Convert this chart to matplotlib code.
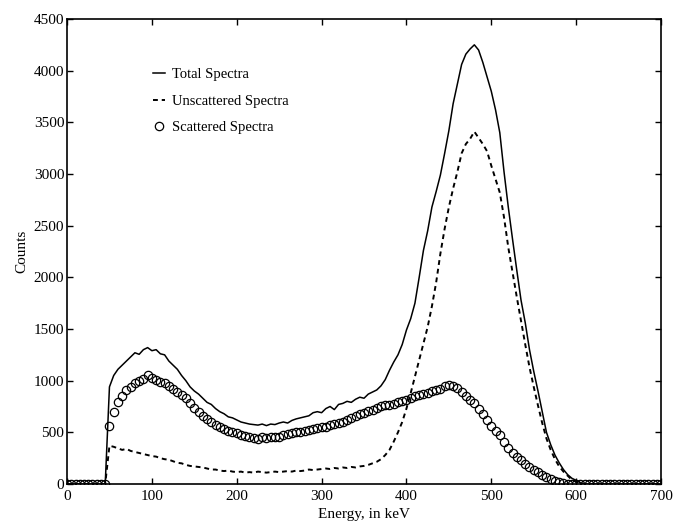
import matplotlib
matplotlib.use('Agg')
import matplotlib.pyplot as plt
import numpy as np

plt.rcParams['font.family'] = ['Liberation Serif', 'DejaVu Serif']

# ---------------- data (5 keV bins) ----------------
energy = np.arange(0, 705, 5)

total = [
    0, 0, 0, 0, 0, 0, 0, 0, 0, 0,
    940, 1050, 1110, 1150, 1190, 1230, 1270, 1255, 1300, 1320,
    1290, 1300, 1260, 1250, 1190, 1150, 1110, 1050, 1000, 940,
    900, 870, 830, 790, 770, 730, 700, 680, 650, 640,
    620, 600, 590, 580, 575, 570, 580, 565, 580, 575,
    590, 600, 590, 615, 630, 640, 650, 660, 690, 700,
    690, 730, 750, 720, 770, 780, 800, 790, 820, 840,
    830, 870, 890, 910, 950, 1010, 1100, 1180, 1250, 1350,
    1490, 1600, 1750, 2000, 2260, 2450, 2680, 2830, 2990, 3200,
    3420, 3680, 3870, 4060, 4160, 4210, 4250, 4200, 4080, 3940,
    3800, 3620, 3400, 3020, 2680, 2370, 2070, 1780, 1560, 1300,
    1090, 900, 700, 500, 380, 280, 205, 140, 90, 55,
    35, 10, 0, 0, 0, 0, 0, 0, 0, 0,
    0, 0, 0, 0, 0, 0, 0, 0, 0, 0,
    0,
]

unscattered = [
    0, 0, 0, 0, 0, 0, 0, 0, 0, 0,
    370, 360, 345, 330, 340, 320, 310, 300, 290, 280,
    270, 265, 250, 240, 235, 220, 205, 200, 185, 175,
    170, 165, 160, 150, 140, 140, 130, 125, 130, 120,
    115, 120, 110, 115, 110, 120, 115, 110, 115, 120,
    115, 120, 125, 120, 130, 125, 130, 140, 135, 140,
    145, 150, 145, 155, 150, 160, 155, 165, 160, 170,
    175, 185, 200, 215, 240, 280, 330, 410, 500, 600,
    730, 880, 1040, 1200, 1360, 1520, 1720, 1950, 2230, 2470,
    2680, 2860, 3020, 3200, 3290, 3340, 3410, 3350, 3290, 3220,
    3080, 2950, 2820, 2580, 2290, 2050, 1810, 1580, 1350, 1130,
    940, 760, 590, 440, 330, 240, 170, 120, 80, 40,
    20, 5, 0, 0, 0, 0, 0, 0, 0, 0,
    0, 0, 0, 0, 0, 0, 0, 0, 0, 0,
    0,
]

scattered = [
    0, 0, 0, 0, 0, 0, 0, 0, 0, 0,
    560, 700, 790, 850, 910, 940, 980, 1000, 1020, 1050,
    1030, 1010, 990, 975, 950, 920, 890, 860, 830, 780,
    740, 700, 660, 630, 600, 570, 550, 530, 510, 500,
    490, 470, 460, 450, 445, 440, 450, 445, 450, 455,
    450, 470, 480, 490, 500, 505, 510, 520, 530, 540,
    550, 555, 570, 580, 590, 600, 620, 640, 660, 680,
    690, 710, 720, 740, 750, 760, 760, 770, 790, 800,
    810, 830, 850, 860, 875, 880, 900, 910, 920, 945,
    955, 950, 930, 890, 850, 810, 780, 730, 680, 620,
    560, 510, 470, 410, 350, 300, 260, 230, 195, 165,
    140, 115, 90, 65, 45, 28, 15, 8, 3, 0,
    0, 0, 0, 0, 0, 0, 0, 0, 0, 0,
    0, 0, 0, 0, 0, 0, 0, 0, 0, 0,
    0,
]

labels = ['Total Spectra', 'Unscattered Spectra', 'Scattered Spectra']

# ---------------- plot ----------------
fig = plt.figure(figsize=(6.73, 5.22), dpi=100)
ax = fig.add_axes([0.0996, 0.0728, 0.8826, 0.8908])

ax.plot(energy, total, color='black', lw=1.1, label=labels[0])
ax.plot(energy, unscattered, color='black', lw=1.4, linestyle=(0, (2.5, 2)),
        label=labels[1])
ax.plot(energy, scattered, linestyle='none', marker='o', markersize=6,
        markerfacecolor='none', markeredgecolor='black', markeredgewidth=0.9,
        label=labels[2])

ax.set_xlim(0, 700)
ax.set_ylim(0, 4500)
ax.set_xticks(range(0, 701, 100))
ax.set_yticks(range(0, 4501, 500))
ax.tick_params(direction='in', length=4, width=1, top=True, right=True,
               labelsize=11, pad=2)
ax.tick_params(axis='x', pad=4)
for s in ax.spines.values():
    s.set_linewidth(1.2)

ax.set_xlabel('Energy, in keV', fontsize=11, labelpad=4)
ax.set_ylabel('Counts', fontsize=11, labelpad=4)

ax.legend(loc='upper left', bbox_to_anchor=(0.145, 0.895), frameon=False,
          fontsize=10.5, handlelength=0.8, handletextpad=0.5,
          labelspacing=0.92, borderpad=0, borderaxespad=0)

fig.savefig('out.png', dpi=100)
